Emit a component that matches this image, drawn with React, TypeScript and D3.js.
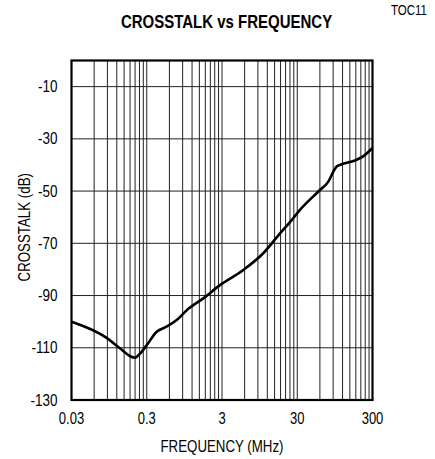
import * as d3 from "d3";

const freqMHz = [0.03, 0.088, 0.132, 0.18, 0.209, 0.234, 0.3, 0.407, 0.525, 0.75, 1.02, 1.69, 2.82, 5.76, 10.6, 17.7, 25.3, 32.6, 60, 77.6, 90.4, 100, 117, 159, 227, 300];
const crosstalkDb = [-100, -106.2, -110.2, -113.2, -113.8, -112.8, -109, -103.9, -102.2, -99.4, -95.6, -91.1, -86, -80.2, -73.8, -66.2, -61.1, -57.2, -49.6, -46.4, -42.6, -40.6, -39.7, -38.7, -36.6, -33.5];

const xTicks = [0.03, 0.3, 3, 30, 300];
const xTickLabels = ["0.03", "0.3", "3", "30", "300"];
const yTicks = [-10, -30, -50, -70, -90, -110, -130];
const minorSteps = [2, 3, 4, 5, 6, 7, 8, 9];

const W = 435;
const H = 459;
const margin = { top: 60.5, right: 62.5, bottom: 59, left: 71.5 };
const font = "'Liberation Sans', Arial, sans-serif";
const SY = 1.22; // the original lettering is drawn a little tall

type TProps = { x: number; y: number; size: number; anchor?: string; bold?: boolean; rotate?: boolean; children: any };
const T = ({ x, y, size, anchor = "middle", bold, rotate, children }: TProps) => (
  <text
    transform={`translate(${x},${y})${rotate ? " rotate(-90)" : ""} scale(${rotate ? 1 : 1},${SY})`}
    textAnchor={anchor}
    fontSize={size}
    fontWeight={bold ? "bold" : "normal"}
  >
    {children}
  </text>
);

export default function App() {
  const x = d3.scaleLog().domain([0.03, 300]).range([margin.left, W - margin.right]);
  const y = d3.scaleLinear().domain([-130, 0]).range([H - margin.bottom, margin.top]);

  const vGrid: number[] = [];
  xTicks.slice(0, -1).forEach((d) => minorSteps.forEach((k) => vGrid.push(d * k)));
  xTicks.forEach((d) => vGrid.push(d));

  const data = freqMHz.map((f, i) => [f, crosstalkDb[i]] as [number, number]);
  const line = d3
    .line<[number, number]>()
    .x((d) => x(d[0]))
    .y((d) => y(d[1]))
    .curve(d3.curveMonotoneX);

  const [x0, x1] = x.range();
  const [y0, y1] = y.range();

  return (
    <svg width={W} height={H} style={{ position: "absolute", left: 0, top: 0, background: "#fff" }} fontFamily={font}>
      <T x={226.5} y={28} size={15} bold>
        CROSSTALK vs FREQUENCY
      </T>
      <T x={427} y={15} size={11.5} anchor="end">
        TOC11
      </T>

      <g stroke="#222" strokeWidth={1}>
        {vGrid.map((v, i) => (
          <line key={"v" + i} x1={x(v)} x2={x(v)} y1={y1} y2={y0} />
        ))}
        {yTicks.map((t) => (
          <line key={"h" + t} x1={x0} x2={x1} y1={y(t)} y2={y(t)} />
        ))}
      </g>

      <rect x={x0} y={y1} width={x1 - x0} height={y0 - y1} fill="none" stroke="#000" strokeWidth={2.2} />

      <path d={line(data) ?? ""} fill="none" stroke="#000" strokeWidth={2.6} strokeLinejoin="round" />

      {yTicks.map((t) => (
        <T key={t} x={57.5} y={y(t) + 5.5} size={13.5} anchor="end">
          {t}
        </T>
      ))}
      {xTicks.map((t, i) => (
        <T key={t} x={x(t)} y={424} size={13} >
          {xTickLabels[i]}
        </T>
      ))}

      <T x={(x0 + x1) / 2} y={452} size={13.3}>
        FREQUENCY (MHz)
      </T>
      <text
        transform={`translate(30, ${(y0 + y1) / 2 - 3}) rotate(-90) scale(1,${SY})`}
        textAnchor="middle"
        fontSize={13.3}
      >
        CROSSTALK (dB)
      </text>
    </svg>
  );
}
